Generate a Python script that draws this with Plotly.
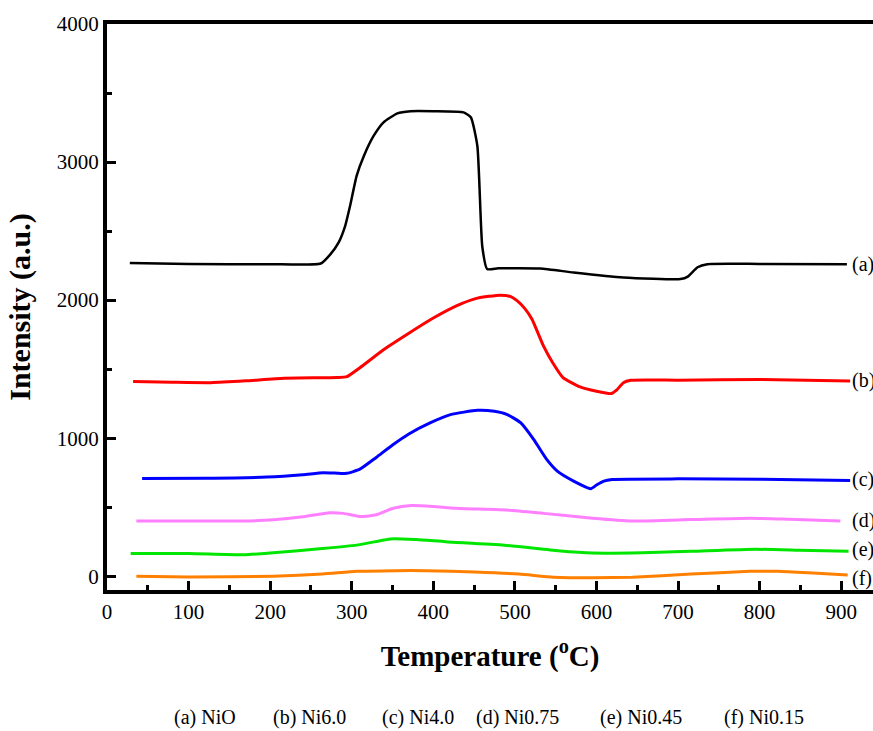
import plotly.graph_objects as go

# ---- data ----
a_x = [28, 100, 200, 262, 274, 284, 292, 298, 306, 315, 327, 339, 356, 372, 400, 437, 446, 454, 460, 466, 480, 531, 572, 633, 703, 712, 724, 736, 800, 907]
a_y = [2268, 2262, 2260, 2265, 2333, 2418, 2538, 2683, 2900, 3046, 3191, 3288, 3353, 3368, 3368, 3360, 3324, 3116, 2390, 2225, 2230, 2229, 2200, 2164, 2152, 2170, 2238, 2260, 2262, 2260]

b_x = [32, 80, 127, 170, 217, 282, 294, 310, 339, 370, 400, 429, 454, 482, 495, 503, 512, 521, 535, 546, 559, 580, 600, 618, 625, 633, 642, 700, 800, 911]
b_y = [1410, 1405, 1402, 1415, 1434, 1439, 1445, 1510, 1640, 1760, 1870, 1960, 2014, 2036, 2025, 1994, 1940, 1861, 1668, 1550, 1439, 1371, 1340, 1323, 1350, 1402, 1419, 1420, 1425, 1414]

c_x = [43, 120, 196, 240, 265, 285, 294, 310, 330, 350, 370, 396, 421, 454, 475, 490, 507, 523, 539, 552, 572, 593, 600, 609, 619, 700, 800, 911]
c_y = [708, 710, 718, 735, 750, 745, 745, 775, 860, 950, 1030, 1110, 1170, 1202, 1195, 1173, 1112, 991, 846, 761, 689, 634, 660, 689, 701, 705, 702, 694]

d_x = [36, 100, 174, 204, 240, 273, 290, 312, 330, 350, 373, 400, 427, 493, 535, 595, 644, 716, 789, 837, 899]
d_y = [400, 400, 400, 408, 430, 460, 455, 432, 445, 490, 512, 505, 492, 478, 455, 420, 400, 410, 420, 412, 400]

e_x = [29, 100, 168, 204, 264, 306, 348, 379, 415, 487, 553, 595, 656, 716, 795, 849, 909]
e_y = [165, 165, 155, 170, 200, 225, 270, 265, 250, 225, 185, 168, 170, 180, 195, 188, 180]

f_x = [36, 100, 204, 264, 306, 354, 391, 451, 505, 547, 595, 644, 716, 788, 822, 860, 908]
f_y = [0, -5, 0, 15, 35, 40, 40, 30, 15, -7, -12, -7, 15, 35, 36, 25, 8]

series_tags = ["(a)", "(b)", "(c)", "(d)", "(e)", "(f)"]
tag_y = [2260, 1420, 700, 405, 190, -15]
legend_names = ["(a) NiO", "(b) Ni6.0", "(c) Ni4.0", "(d) Ni0.75", "(e) Ni0.45", "(f) Ni0.15"]

x_ticks = [0, 100, 200, 300, 400, 500, 600, 700, 800, 900]
y_ticks = [0, 1000, 2000, 3000, 4000]

# ---- styles ----
colors = ["#000000", "#FF0000", "#0000FF", "#FF80FF", "#00E600", "#FF8000"]
widths = [2.5, 3, 3, 3, 3, 3]
FONT = "Liberation Serif"

fig = go.Figure()
for xs, ys, col, w in zip([a_x, b_x, c_x, d_x, e_x, f_x],
                          [a_y, b_y, c_y, d_y, e_y, f_y], colors, widths):
    fig.add_trace(go.Scatter(x=xs, y=ys, mode="lines",
                             line=dict(color=col, width=w, shape="spline", smoothing=0.5),
                             showlegend=False, hoverinfo="skip"))

for t, ty in zip(series_tags, tag_y):
    fig.add_annotation(x=911, y=ty, xref="x", yref="y", text=t, showarrow=False,
                       xanchor="left", yanchor="middle",
                       font=dict(family=FONT, size=20, color="black"))

legend_px = [172, 271, 380, 474, 598, 722]
for name, px in zip(legend_names, legend_px):
    fig.add_annotation(x=(px - 107) / 766, y=-0.226, xref="paper", yref="paper",
                       text=name, showarrow=False, xanchor="left", yanchor="middle",
                       font=dict(family=FONT, size=20, color="black"))

fig.update_layout(
    width=873, height=731,
    margin=dict(l=107, r=0, t=24, b=141, autoexpand=False),
    plot_bgcolor="white", paper_bgcolor="white",
    font=dict(family=FONT, color="black"),
)
fig.update_xaxes(
    range=[0, 939], tickvals=x_ticks, ticktext=[str(v) for v in x_ticks],
    showgrid=False, zeroline=False, automargin=False,
    showline=True, linecolor="black", linewidth=4, mirror=True,
    ticks="inside", ticklen=9, tickwidth=3, tickcolor="black",
    minor=dict(ticks="inside", dtick=50, tick0=0, ticklen=5, tickwidth=3, tickcolor="black"),
    tickfont=dict(family=FONT, size=21, color="black"),
    title=dict(text="<b>Temperature (<sup>o</sup>C)</b>", standoff=23,
               font=dict(family=FONT, size=29, color="black")),
)
fig.update_yaxes(
    range=[-100, 4000], tickvals=y_ticks, ticktext=[str(v) for v in y_ticks],
    showgrid=False, zeroline=False, automargin=False,
    showline=True, linecolor="black", linewidth=4,
    ticks="inside", ticklen=9, tickwidth=3, tickcolor="black",
    minor=dict(ticks="inside", dtick=500, tick0=0, ticklen=5, tickwidth=3, tickcolor="black"),
    tickfont=dict(family=FONT, size=21, color="black"),
    title=dict(text="<b>Intensity (a.u.)</b>", standoff=18,
               font=dict(family=FONT, size=30, color="black")),
)

fig.write_html("out.html", config={"displayModeBar": False},
               post_script="document.body.style.margin='0px';document.body.style.overflow='hidden';")
